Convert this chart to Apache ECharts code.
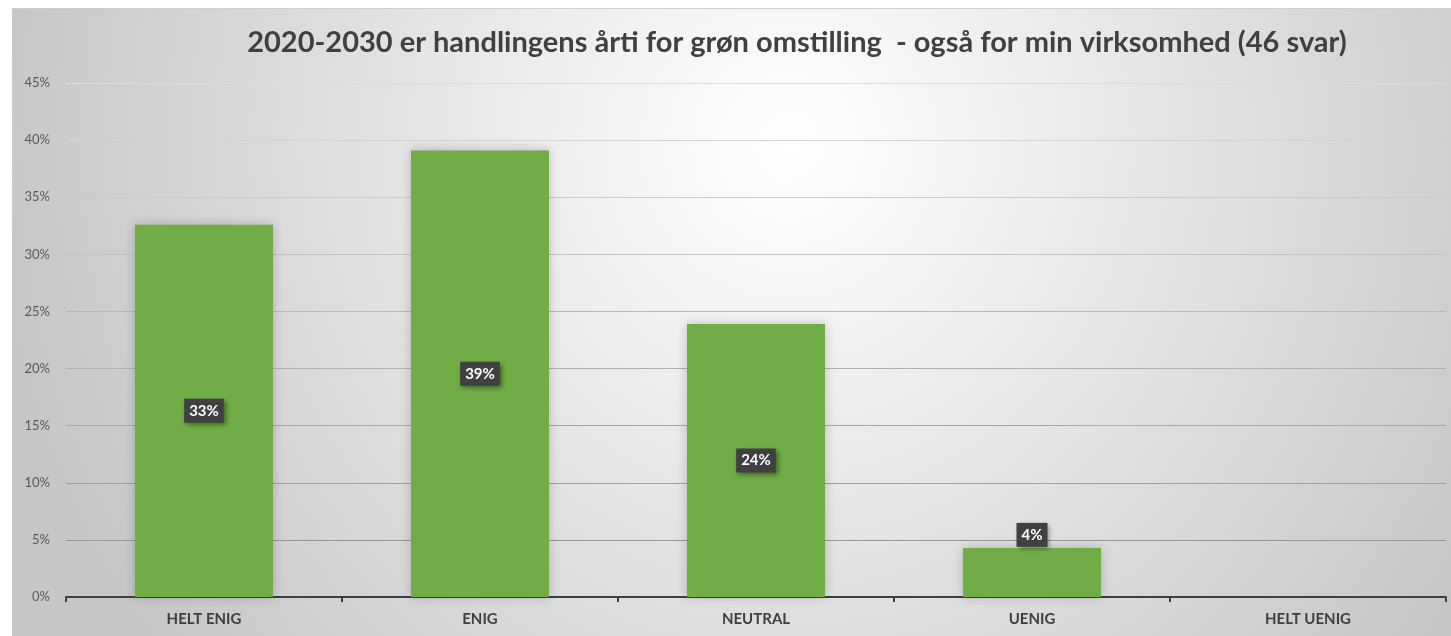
<!DOCTYPE html>
<html>
<head>
<meta charset="utf-8">
<script src="https://cdn.jsdelivr.net/npm/echarts@6/dist/echarts.min.js"></script>
<style>
  html, body { margin: 0; padding: 0; background: #ffffff; }
  #wrap { position: relative; width: 1451px; height: 636px; overflow: hidden; }
  #bg { position: absolute; left: 12px; top: 8px; width: 1439px; height: 628px;
        border-top: 1px solid #cfcfcf; box-sizing: border-box;
        background: radial-gradient(ellipse 800px 820px at 54% 22%, #ffffff 0%, #f4f4f4 20%, #c6c6c6 100%); }
  #chart { position: absolute; left: 0; top: 0; width: 1451px; height: 636px; }
</style>
</head>
<body>
<div id="wrap"><div id="bg"></div><div id="chart"></div></div>
<script>
const titleText = '2020-2030 er handlingens årti for grøn omstilling  - også for min virksomhed (46 svar)';
const categories = ['HELT ENIG', 'ENIG', 'NEUTRAL', 'UENIG', 'HELT UENIG'];
const values = [32.6, 39.1, 23.9, 4.3, 0];
const labelTexts = ['33%', '39%', '24%', '4%', ''];
const yTicks = [0, 5, 10, 15, 20, 25, 30, 35, 40, 45];

const chart = echarts.init(document.getElementById('chart'), null, { renderer: 'canvas' });
const FONT = 'Lato';

const labelBase = {
  show: true,
  position: 'inside',
  backgroundColor: '#404040',
  color: '#ffffff',
  fontFamily: FONT,
  fontWeight: 'bold',
  fontSize: 15,
  padding: [5, 5, 4, 5],
  shadowColor: 'rgba(0,0,0,0.45)',
  shadowBlur: 5,
  shadowOffsetX: 2,
  shadowOffsetY: 2,
  formatter: p => labelTexts[p.dataIndex]
};

const seriesData = values.map((v, i) => {
  const item = { value: v };
  if (!labelTexts[i]) item.label = { show: false };
  else if (v < 8) item.label = { position: 'top', distance: 1 };
  return item;
});

chart.setOption({
  animation: false,
  backgroundColor: 'transparent',
  graphic: [{
    type: 'text',
    x: 797, y: 43,
    style: {
      text: titleText,
      fill: '#404040',
      font: 'bold 29px ' + FONT,
      textAlign: 'center',
      textVerticalAlign: 'middle'
    }
  }],
  grid: { left: 66, right: 5, top: 83, bottom: 39, containLabel: false },
  xAxis: {
    type: 'category',
    data: categories,
    axisLine: { lineStyle: { color: '#404040', width: 2 } },
    axisTick: { show: true, length: 5, lineStyle: { color: '#404040', width: 2 } },
    axisLabel: { color: '#404040', fontFamily: FONT, fontWeight: 'bold', fontSize: 15, margin: 15 },
    splitLine: { show: false }
  },
  yAxis: {
    type: 'value',
    min: 0, max: 45, interval: 5,
    axisLine: { show: false },
    axisTick: { show: false },
    axisLabel: { color: '#595959', fontFamily: FONT, fontSize: 13, margin: 16,
      formatter: v => yTicks.includes(v) ? v + '%' : '' },
    splitLine: { lineStyle: { width: 1, color: {
      type: 'linear', x: 0, y: 83, x2: 0, y2: 597, global: true,
      colorStops: [{ offset: 0, color: '#dcdcdc' }, { offset: 1, color: '#8e8e8e' }] } } }
  },
  series: [{
    type: 'bar',
    data: seriesData,
    barWidth: '50%',
    itemStyle: {
      color: '#70AD47',
      shadowColor: 'rgba(0,0,0,0.22)',
      shadowBlur: 10,
      shadowOffsetX: 0,
      shadowOffsetY: 0
    },
    label: labelBase
  }]
});
</script>
</body>
</html>
